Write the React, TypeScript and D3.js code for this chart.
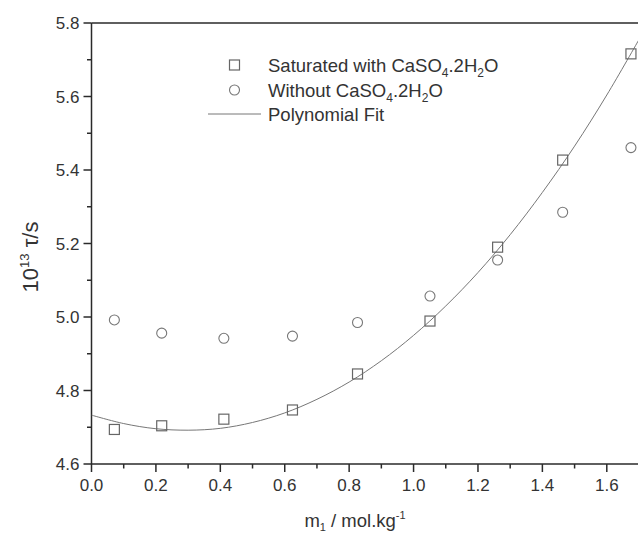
import React from "react";
import * as d3 from "d3";

const mValues = [0.071, 0.218, 0.411, 0.624, 0.826, 1.051, 1.261, 1.463, 1.675];
const tauSaturated = [4.694, 4.704, 4.722, 4.747, 4.845, 4.989, 5.19, 5.427, 5.716];
const tauWithout = [4.992, 4.956, 4.942, 4.948, 4.985, 5.057, 5.155, 5.285, 5.461];
const fitM = [0, 0.1, 0.2, 0.3, 0.4, 0.5, 0.6, 0.7, 0.8, 0.9, 1.0, 1.1, 1.2, 1.3, 1.4, 1.5, 1.6, 1.7];
const fitTau = [4.733, 4.71, 4.696, 4.692, 4.697, 4.713, 4.739, 4.776, 4.823, 4.881, 4.95, 5.03, 5.121, 5.224, 5.339, 5.465, 5.604, 5.755];
const xTickValues = [0, 0.2, 0.4, 0.6, 0.8, 1.0, 1.2, 1.4, 1.6];
const yTickValues = [4.6, 4.8, 5.0, 5.2, 5.4, 5.6, 5.8];

const W = 638;
const H = 540;
const left = 91.5;
const right = 639;
const top = 23;
const bottom = 464;

export default function App() {
  const x = d3.scaleLinear().domain([0, 1.7]).range([left, right]);
  const y = d3.scaleLinear().domain([4.6, 5.8]).range([bottom, top]);
  const minorX = d3.range(0, 1.71, 0.1).filter((v) => Math.abs(Math.round(v * 5) - v * 5) > 1e-6);
  const minorY = d3.range(4.7, 5.8, 0.2);
  const line = d3
    .line<number>()
    .x((_, i) => x(fitM[i]))
    .y((d) => y(d))
    .curve(d3.curveCatmullRom);
  const axisColor = "#2a2a2a";
  const textColor = "#333";
  const font = "'Liberation Sans', Arial, sans-serif";
  const sub = 5;
  const legendRows = [65, 90, 114];
  const lf = 18.5;
  return (
    <svg
      width={W}
      height={H}
      style={{ position: "absolute", left: 0, top: 0, background: "#fff" }}
      fontFamily={font}
    >
      <defs>
        <clipPath id="plot">
          <rect x={left} y={top} width={right - left} height={bottom - top} />
        </clipPath>
      </defs>
      <line x1={left} x2={W} y1={top} y2={top} stroke={axisColor} strokeWidth={1.5} />
      <line x1={left} x2={left} y1={top} y2={bottom} stroke={axisColor} strokeWidth={1.5} />
      <line x1={left} x2={W} y1={bottom} y2={bottom} stroke={axisColor} strokeWidth={1.5} />
      {xTickValues.map((v) => (
        <g key={"xt" + v}>
          <line x1={x(v)} x2={x(v)} y1={bottom} y2={bottom + 8} stroke={axisColor} strokeWidth={1.5} />
          <text x={x(v)} y={bottom + 27} textAnchor="middle" fontSize={17} fill={textColor}>
            {v.toFixed(1)}
          </text>
        </g>
      ))}
      {minorX.map((v) => (
        <line key={"xm" + v} x1={x(v)} x2={x(v)} y1={bottom} y2={bottom + 4.5} stroke={axisColor} strokeWidth={1.5} />
      ))}
      {yTickValues.map((v) => (
        <g key={"yt" + v}>
          <line x1={left - 8} x2={left} y1={y(v)} y2={y(v)} stroke={axisColor} strokeWidth={1.5} />
          <text x={left - 12} y={y(v) + 6} textAnchor="end" fontSize={17} fill={textColor}>
            {v.toFixed(1)}
          </text>
        </g>
      ))}
      {minorY.map((v) => (
        <line key={"ym" + v} x1={left - 4.5} x2={left} y1={y(v)} y2={y(v)} stroke={axisColor} strokeWidth={1.5} />
      ))}
      <path d={line(fitTau) || ""} fill="none" stroke="#777" strokeWidth={1} clipPath="url(#plot)" />
      {mValues.map((m, i) => (
        <rect
          key={"s" + i}
          x={x(m) - 5}
          y={y(tauSaturated[i]) - 5}
          width={10}
          height={10}
          fill="none"
          stroke="#666"
          strokeWidth={1.2}
        />
      ))}
      {mValues.map((m, i) => (
        <circle key={"c" + i} cx={x(m)} cy={y(tauWithout[i])} r={5} fill="none" stroke="#777" strokeWidth={1.1} />
      ))}
      <rect x={229.5} y={legendRows[0] - 5} width={10} height={10} fill="none" stroke="#666" strokeWidth={1.2} />
      <text x={268} y={legendRows[0] + 6.5} fontSize={lf} fill={textColor}>
        Saturated with CaSO
        <tspan dy={sub} fontSize={12}>4</tspan>
        <tspan dy={-sub}>.2H</tspan>
        <tspan dy={sub} fontSize={12}>2</tspan>
        <tspan dy={-sub}>O</tspan>
      </text>
      <circle cx={234.5} cy={legendRows[1]} r={5} fill="none" stroke="#777" strokeWidth={1.1} />
      <text x={268} y={legendRows[1] + 6.5} fontSize={lf} fill={textColor}>
        Without CaSO
        <tspan dy={sub} fontSize={12}>4</tspan>
        <tspan dy={-sub}>.2H</tspan>
        <tspan dy={sub} fontSize={12}>2</tspan>
        <tspan dy={-sub}>O</tspan>
      </text>
      <line x1={208} x2={261} y1={legendRows[2]} y2={legendRows[2]} stroke="#777" strokeWidth={1} />
      <text x={268} y={legendRows[2] + 6.5} fontSize={lf} fill={textColor}>
        Polynomial Fit
      </text>
      <text x={355} y={527} textAnchor="middle" fontSize={18.5} fill={textColor}>
        m
        <tspan dy={4} fontSize={11}>1</tspan>
        <tspan dy={-4}> / mol.kg</tspan>
        <tspan dy={-8} fontSize={11}>-1</tspan>
      </text>
      <text transform="translate(38,257) rotate(-90)" textAnchor="middle" fontSize={22} fill={textColor}>
        10
        <tspan dy={-9} fontSize={13}>13</tspan>
        <tspan dy={9}> τ/s</tspan>
      </text>
    </svg>
  );
}
